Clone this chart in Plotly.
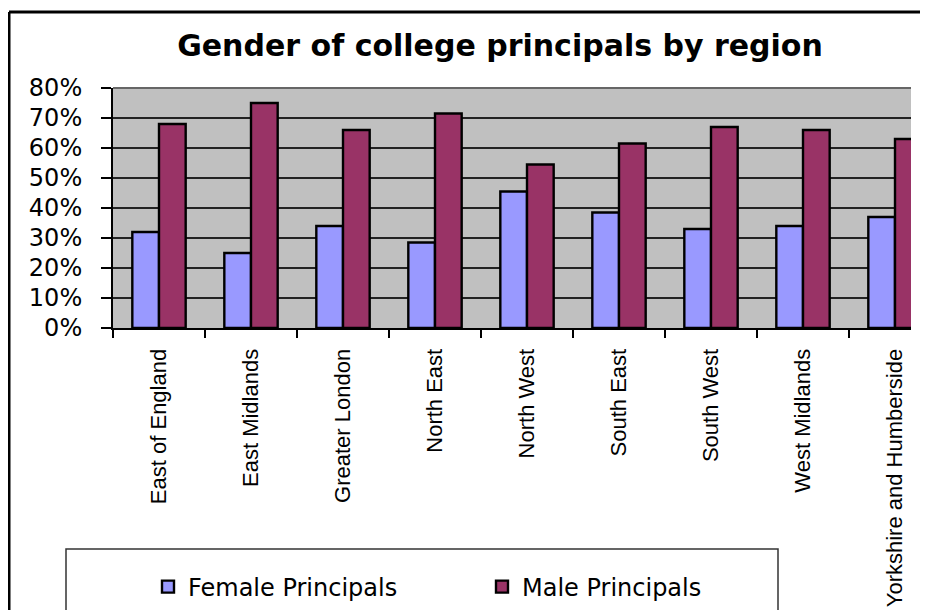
import plotly.graph_objects as go

# values (share of principals, %)
regions = ["East of England", "East Midlands", "Greater London", "North East", "North West",
           "South East", "South West", "West Midlands", "Yorkshire and Humberside"]
female = [32, 25, 34, 28.5, 45.5, 38.5, 33, 34, 37]
male = [68, 75, 66, 71.5, 54.5, 61.5, 67, 66, 63]

# the page body has an 8px margin, so the figure is drawn 8px smaller and
# positions below are given in screen pixels, then shifted
OFF = 8
W, H = 928 - OFF, 610 - OFF
L, R, T, B = 113, 911, 88, 328   # plot area on screen
pw, ph = R - L, B - T


def px(x):
    return (x - L) / pw


def py(y):
    return (B - y) / ph


fig = go.Figure()
fig.add_trace(go.Bar(x=regions, y=[v / 100 for v in female], name="Female Principals",
                     marker=dict(color="#9999FF", line=dict(color="black", width=2.4))))
fig.add_trace(go.Bar(x=regions, y=[v / 100 for v in male], name="Male Principals",
                     marker=dict(color="#993366", line=dict(color="black", width=2.4))))

fig.update_layout(
    width=W, height=H,
    margin=dict(l=L - OFF, r=928 - R, t=T - OFF, b=610 - B, autoexpand=False),
    paper_bgcolor="white", plot_bgcolor="#C0C0C0",
    barmode="group", bargap=0.42, bargroupgap=0,
    title=dict(text="<b>Gender of college principals by region</b>", x=(500 - OFF) / W, xanchor="center",
               y=1 - (45 - OFF) / H, yanchor="middle",
               font=dict(family="DejaVu Sans", size=30, color="black")),
    legend=dict(orientation="h", x=px(148), y=py(587), xanchor="left", yanchor="middle",
                entrywidth=289, entrywidthmode="pixels", itemwidth=30,
                bgcolor="rgba(0,0,0,0)", font=dict(family="DejaVu Sans", size=24, color="black")),
    shapes=[
        # chart border (top and left visible)
        dict(type="line", xref="paper", yref="paper", x0=px(9), x1=px(940), y0=py(12), y1=py(12),
             line=dict(color="black", width=3)),
        dict(type="line", xref="paper", yref="paper", x0=px(9), x1=px(9), y0=py(12), y1=py(640),
             line=dict(color="black", width=3)),
        # grey top edge of the plot area
        dict(type="line", xref="paper", yref="paper", x0=0, x1=1, y0=1, y1=1,
             line=dict(color="#666666", width=2)),
        # legend box
        dict(type="rect", xref="paper", yref="paper", x0=px(66), x1=px(778), y0=py(549), y1=py(640),
             line=dict(color="#333333", width=1.5)),
    ],
)

fig.update_xaxes(
    range=[-0.5, -0.5 + pw / 92], tickson="boundaries", ticks="outside", ticklen=8,
    tickcolor="black", tickwidth=1.5, showgrid=False, showline=True, linecolor="black",
    linewidth=2, tickangle=-90, automargin=False, ticklabelstandoff=10,
    tickfont=dict(family="Liberation Sans", size=22, color="black"),
)
fig.update_yaxes(
    range=[0, 0.8], dtick=0.1, tickformat=".0%", ticks="outside", ticklen=10, tickcolor="black",
    tickwidth=1.5, showgrid=True, gridcolor="#222222", gridwidth=1.5, showline=True,
    linecolor="black", linewidth=2, zeroline=False, automargin=False, ticklabelstandoff=14,
    tickfont=dict(family="DejaVu Sans", size=24, color="black"),
)

fig.write_html("out.html")
